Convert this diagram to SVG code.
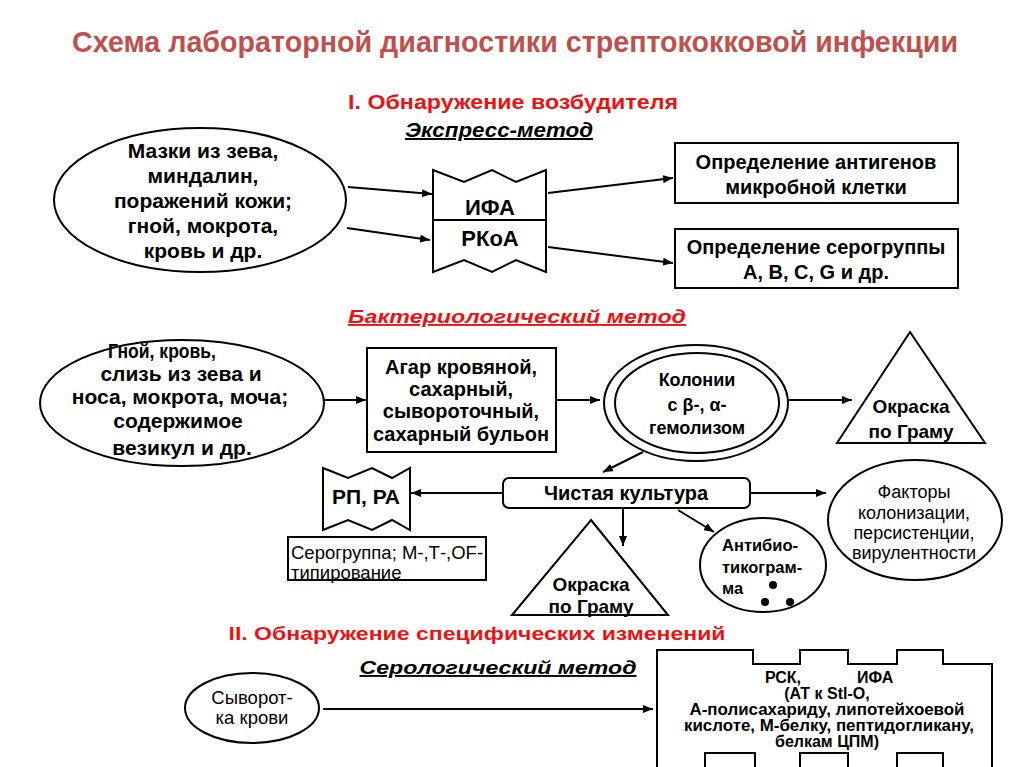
<svg xmlns="http://www.w3.org/2000/svg" width="1024" height="767" viewBox="0 0 1024 767">
<style>
.sh{fill:#fff;stroke:#000;stroke-width:2}
.ln{fill:none;stroke:#000;stroke-width:2}
.t{font-family:"Liberation Sans",Arial,sans-serif;font-weight:bold;fill:#000;text-anchor:middle}
.s16{font-size:16px}
.s18{font-size:18px}
.s19{font-size:19px}
.s20{font-size:20px}
.s21{font-size:21px}
.n{font-weight:normal}
.red{fill:#EE1111}
.ul{text-decoration:underline}
.it{font-style:italic}
.st{text-anchor:start}
</style>
<defs>
<marker id="ah" markerWidth="10" markerHeight="8" refX="10" refY="4" orient="auto" markerUnits="userSpaceOnUse">
<path d="M0,0 L10,4 L0,8 z" fill="#000"/>
</marker>
</defs>
<rect width="1024" height="767" fill="#fff"/>

<g id="titles">
<text x="515" y="52" class="t" style="font-size:30px;fill:#C0504D" textLength="886" lengthAdjust="spacingAndGlyphs">Схема лабораторной диагностики стрептококковой инфекции</text>
<text x="513" y="109" class="t red" style="font-size:21px" textLength="330" lengthAdjust="spacingAndGlyphs">I.  Обнаружение возбудителя</text>
<text x="499" y="137" class="t it ul" style="font-size:20px" textLength="188" lengthAdjust="spacingAndGlyphs">Экспресс-метод</text>
<text x="517" y="323" class="t it ul red" style="font-size:19px" textLength="338" lengthAdjust="spacingAndGlyphs">Бактериологический  метод</text>
<text x="477" y="640" class="t red" style="font-size:19px" textLength="497" lengthAdjust="spacingAndGlyphs">II.  Обнаружение специфических изменений</text>
<text x="498" y="674" class="t it ul" style="font-size:19px" textLength="277" lengthAdjust="spacingAndGlyphs">Серологический  метод</text>
</g>

<g id="connectors">
<line class="ln" x1="348" y1="187" x2="432" y2="194" marker-end="url(#ah)"/>
<line class="ln" x1="347" y1="228" x2="430" y2="240" marker-end="url(#ah)"/>
<line class="ln" x1="548" y1="193" x2="673" y2="178" marker-end="url(#ah)"/>
<line class="ln" x1="548" y1="247" x2="673" y2="263" marker-end="url(#ah)"/>
<line class="ln" x1="324" y1="400" x2="366" y2="400" marker-end="url(#ah)"/>
<line class="ln" x1="557" y1="400" x2="600" y2="400" marker-end="url(#ah)"/>
<line class="ln" x1="789" y1="400" x2="852" y2="400" marker-end="url(#ah)"/>
<line class="ln" x1="643" y1="452" x2="603" y2="472" marker-end="url(#ah)"/>
<line class="ln" x1="503" y1="493" x2="411" y2="493" marker-end="url(#ah)"/>
<line class="ln" x1="623" y1="508" x2="623" y2="546" marker-end="url(#ah)"/>
<line class="ln" x1="678" y1="510" x2="714" y2="532" marker-end="url(#ah)"/>
<line class="ln" x1="750" y1="493" x2="826" y2="493" marker-end="url(#ah)"/>
<line class="ln" x1="323" y1="709" x2="653" y2="709" marker-end="url(#ah)"/>
</g>

<g id="smears">
<ellipse class="sh" cx="200" cy="200" rx="146" ry="72"/>
<text class="t s21" x="203" y="158">Мазки из зева,</text>
<text class="t s21" x="203" y="183">миндалин,</text>
<text class="t s21" x="203" y="208">поражений кожи;</text>
<text class="t s21" x="203" y="233">гной, мокрота,</text>
<text class="t s21" x="203" y="258">кровь и др.</text>
</g>

<g id="ifa">
<path class="sh" d="M433,170 L464,182 L492,170 L516,182 L546,170 L546,272 L516,260 L492,272 L464,260 L433,272 Z"/>
<line class="ln" x1="433" y1="220" x2="546" y2="220"/>
<text class="t" style="font-size:22px" x="490" y="215">ИФА</text>
<text class="t" style="font-size:22px" x="490" y="246">РКоА</text>
</g>

<g id="antigens">
<rect class="sh" x="675" y="143" width="283" height="60"/>
<text class="t s20" x="816" y="169">Определение антигенов</text>
<text class="t s20" x="816" y="194">микробной клетки</text>
</g>

<g id="serogroup">
<rect class="sh" x="675" y="229" width="283" height="59"/>
<text class="t s20" x="816" y="254">Определение серогруппы</text>
<text class="t s20" x="816" y="279">А, В, С, G и др.</text>
</g>

<g id="material">
<ellipse class="sh" cx="182" cy="403" rx="142" ry="63"/>
<text class="t s21" x="162" y="358" textLength="108" lengthAdjust="spacingAndGlyphs">Гной, кровь,</text>
<text class="t s21" x="181" y="381">слизь из зева и</text>
<text class="t s21" x="180" y="404">носа, мокрота, моча;</text>
<text class="t s21" x="178" y="428">содержимое</text>
<text class="t s21" x="182" y="455">везикул и др.</text>
</g>

<g id="agar">
<rect class="sh" x="367" y="348" width="189" height="104"/>
<text class="t s20" x="461" y="374">Агар кровяной,</text>
<text class="t s20" x="461" y="396">сахарный,</text>
<text class="t s20" x="461" y="418">сывороточный,</text>
<text class="t s20" x="461" y="441">сахарный бульон</text>
</g>

<g id="colonies">
<ellipse class="sh" cx="696" cy="403" rx="92" ry="58"/>
<ellipse class="sh" cx="697" cy="403" rx="82" ry="50"/>
<text class="t s18" x="697" y="386">Колонии</text>
<text class="t s18" x="697" y="411">с β-, α-</text>
<text class="t s18" x="697" y="434">гемолизом</text>
</g>

<g id="gram1">
<path class="sh" d="M910,332 L985,443 L837,443 Z"/>
<text class="t s19" x="911" y="413">Окраска</text>
<text class="t s19" x="911" y="438">по Граму</text>
</g>

<g id="pure">
<rect class="sh" x="503" y="478" width="247" height="30" rx="6"/>
<text class="t s20" x="626" y="500">Чистая культура</text>
</g>

<g id="rpra">
<path class="sh" d="M323,468 L348,478 L372,468 L392,478 L410,468 L410,530 L392,520 L372,530 L348,520 L323,530 Z"/>
<text class="t s21" x="366" y="504">РП, РА</text>
</g>

<g id="typing">
<rect class="sh" x="288" y="537" width="198" height="43"/>
<text class="t n st" style="font-size:18.5px" x="291" y="559">Серогруппа; М-,Т-,OF-</text>
<text class="t n st" style="font-size:18.5px" x="291" y="579">типирование</text>
</g>

<g id="gram2">
<path class="sh" d="M591,520 L668,615 L512,615 Z"/>
<text class="t s19" x="591" y="591">Окраска</text>
<text class="t s19" x="591" y="613">по Граму</text>
</g>

<g id="antibiogram">
<ellipse class="sh" cx="763" cy="565" rx="63" ry="47"/>
<text class="t st" style="font-size:16.5px" x="722" y="551">Антибио-</text>
<text class="t st" style="font-size:16.5px" x="722" y="573">тикограм-</text>
<text class="t st" style="font-size:16.5px" x="722" y="594">ма</text>
<circle cx="773" cy="585" r="4"/>
<circle cx="765" cy="602" r="4"/>
<circle cx="790" cy="602" r="4"/>
</g>

<g id="factors">
<ellipse class="sh" cx="915" cy="520" rx="87" ry="60"/>
<text class="t n s18" x="914" y="498">Факторы</text>
<text class="t n s18" x="914" y="519">колонизации,</text>
<text class="t n s18" x="914" y="539">персистенции,</text>
<text class="t n s18" x="914" y="559">вирулентности</text>
</g>

<g id="serum">
<ellipse class="sh" cx="252" cy="708" rx="67" ry="35"/>
<text class="t n" style="font-size:18.5px" x="252" y="704">Сыворот-</text>
<text class="t n" style="font-size:18.5px" x="252" y="724">ка крови</text>
</g>

<g id="serology">
<path class="sh" d="M657,770 L657,650 L753,650 L753,664 L800,664 L800,650 L848,650 L848,664 L897,664 L897,650 L943,650 L943,664 L992,664 L992,770"/>
<path class="ln" d="M705,770 L705,753 L755,753 L755,770 M800,770 L800,753 L848,753 L848,770 M897,770 L897,753 L943,753 L943,770"/>
<text class="t s16 st" x="765" y="683">РСК,</text>
<text class="t s16 st" x="857" y="683">ИФА</text>
<text class="t s16" x="827" y="699">(АТ  к Stl-O,</text>
<text class="t s16" x="827" y="715" textLength="275" lengthAdjust="spacingAndGlyphs">А-полисахариду, липотейхоевой</text>
<text class="t s16" x="829" y="731" textLength="290" lengthAdjust="spacingAndGlyphs">кислоте, М-белку, пептидогликану,</text>
<text class="t s16" x="827" y="747">белкам ЦПМ)</text>
</g>
</svg>
